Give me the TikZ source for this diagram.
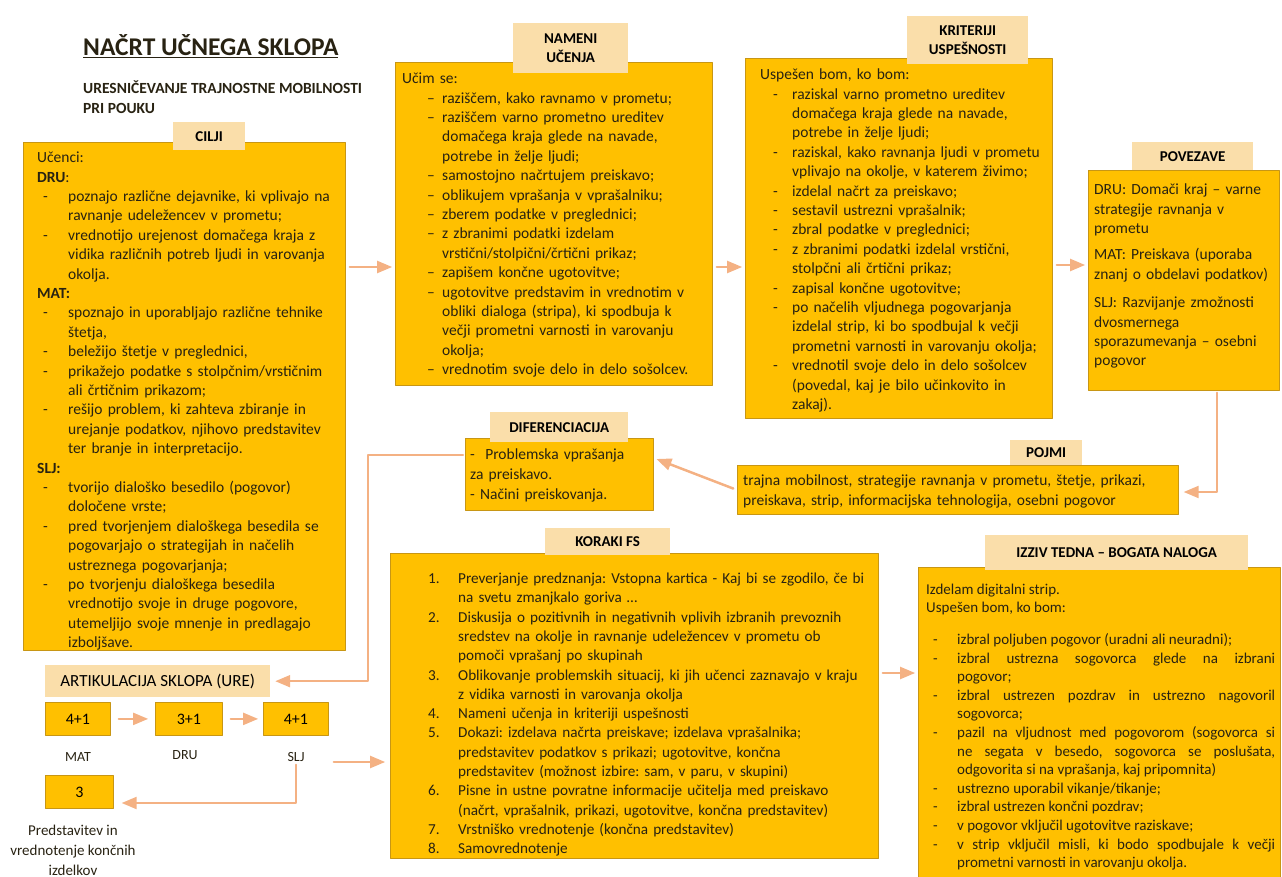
\documentclass[tikz,border=0pt]{standalone}
\usepackage{fontspec}
\setmainfont{Carlito}
\usetikzlibrary{arrows}
\frenchspacing

\definecolor{boxfill}{RGB}{255,192,0}
\definecolor{boxline}{RGB}{200,150,20}
\definecolor{tabfill}{RGB}{250,222,170}
\definecolor{arrowc}{RGB}{244,177,131}
\definecolor{txtc}{RGB}{40,34,18}

% dash lists with hanging indent
\newlength\dpre
\newlength\dind
\newcommand\dsym{-}
\newcommand\ditem{\par\noindent\hangindent=\dind\hangafter=1\makebox[\dind][l]{\hspace*{\dpre}\dsym}}
\newcommand\nitem[1]{\par\noindent\hangindent=\dind\hangafter=1\makebox[\dind][l]{#1}}

\begin{document}
\begin{tikzpicture}[line cap=round,line join=round,>=triangle 45,x=1.0pt,y=-1.0pt,
  box/.style={draw=boxline,fill=boxfill,line width=0.8pt,anchor=north west,inner sep=0pt},
  tab/.style={fill=tabfill,anchor=north west,inner sep=0pt,align=center,text=black,
    font=\fontsize{15}{19}\selectfont\bfseries},
  txt/.style={anchor=north west,inner sep=0pt,align=left,text=txtc,
    font=\fontsize{15.5}{19.4}\selectfont},
  arr/.style={->,draw=arrowc,line width=2.5pt,shorten <=4pt,shorten >=3pt}]
\useasboundingbox (0,0) rectangle (1282,877);

% title
\node[anchor=west,inner sep=0pt,text=txtc,font=\fontsize{25.5}{30}\selectfont\bfseries] (naslov) at (83,46) {\underline{NAČRT UČNEGA SKLOPA}};
\node[anchor=north west,inner sep=0pt,align=left,text=txtc,font=\fontsize{15.5}{20}\selectfont\bfseries] (podnaslov) at (83,79) {\strut URESNIČEVANJE TRAJNOSTNE MOBILNOSTI\\PRI POUKU};

% CILJI
\node[box,minimum width=322,minimum height=508] (cilji) at (23,142) {};
\node[tab,minimum width=72,minimum height=28] (ciljitab) at (173,122) {CILJI};
\node[txt,text width=305] (ciljitxt) at (37,149) {\setlength\dpre{6pt}\setlength\dind{31pt}%
\noindent\strut Učenci:
\par\noindent\textbf{DRU}:
\ditem poznajo različne dejavnike, ki vplivajo na\newline ravnanje udeležencev v prometu;
\ditem vrednotijo urejenost domačega kraja z\newline vidika različnih potreb ljudi in varovanja\newline okolja.
\par\noindent\textbf{MAT:}
\ditem spoznajo in uporabljajo različne tehnike\newline štetja,
\ditem beležijo štetje v preglednici,
\ditem prikažejo podatke s stolpčnim/vrstičnim\newline ali črtičnim prikazom;
\ditem rešijo problem, ki zahteva zbiranje in\newline urejanje podatkov, njihovo predstavitev\newline ter branje in interpretacijo.
\par\noindent\textbf{SLJ:}
\ditem tvorijo dialoško besedilo (pogovor)\newline določene vrste;
\ditem pred tvorjenjem dialoškega besedila se\newline pogovarjajo o strategijah in načelih\newline ustreznega pogovarjanja;
\ditem po tvorjenju dialoškega besedila\newline vrednotijo svoje in druge pogovore,\newline utemeljijo svoje mnenje in predlagajo\newline izboljšave.\par};

% NAMENI UCENJA
\node[box,minimum width=317,minimum height=323] (nameni) at (395,62) {};
\node[tab,minimum width=115,minimum height=50] (namenitab) at (513,23) {NAMENI\\UČENJA};
\node[txt,text width=305] (namenitxt) at (402,70) {\setlength\dpre{25pt}\setlength\dind{40pt}\renewcommand\dsym{–}%
\noindent\strut Učim se:
\ditem raziščem, kako ravnamo v prometu;
\ditem raziščem varno prometno ureditev\newline domačega kraja glede na navade,\newline potrebe in želje ljudi;
\ditem samostojno načrtujem preiskavo;
\ditem oblikujem vprašanja v vprašalniku;
\ditem zberem podatke v preglednici;
\ditem z zbranimi podatki izdelam\newline vrstični/stolpični/črtični prikaz;
\ditem zapišem končne ugotovitve;
\ditem ugotovitve predstavim in vrednotim v\newline obliki dialoga (stripa), ki spodbuja k\newline večji prometni varnosti in varovanju\newline okolja;
\ditem vrednotim svoje delo in delo sošolcev.\par};

% KRITERIJI USPESNOSTI
\node[box,minimum width=307,minimum height=360] (kriteriji) at (745,58) {};
\node[tab,minimum width=121,minimum height=48] (kriterijitab) at (907,16) {KRITERIJI\\USPEŠNOSTI};
\node[txt,text width=290] (kriterijitxt) at (760,66) {\setlength\dpre{13pt}\setlength\dind{32pt}%
\noindent\strut Uspešen bom, ko bom:
\ditem raziskal varno prometno ureditev\newline domačega kraja glede na navade,\newline potrebe in želje ljudi;
\ditem raziskal, kako ravnanja ljudi v prometu\newline vplivajo na okolje, v katerem živimo;
\ditem izdelal načrt za preiskavo;
\ditem sestavil ustrezni vprašalnik;
\ditem zbral podatke v preglednici;
\ditem z zbranimi podatki izdelal vrstični,\newline stolpčni ali črtični prikaz;
\ditem zapisal končne ugotovitve;
\ditem po načelih vljudnega pogovarjanja\newline izdelal strip, ki bo spodbujal k večji\newline prometni varnosti in varovanju okolja;
\ditem vrednotil svoje delo in delo sošolcev\newline (povedal, kaj je bilo učinkovito in\newline zakaj).\par};

% POVEZAVE
\node[box,minimum width=191,minimum height=220] (povezave) at (1088,170) {};
\node[tab,minimum width=121,minimum height=28] (povezavetab) at (1132,142) {POVEZAVE};
\node[txt,text width=186] (povezavetxt) at (1094,181) {%
\noindent\strut DRU: Domači kraj – varne\newline strategije ravnanja v\newline prometu
\par\vspace{7pt}\noindent MAT: Preiskava (uporaba\newline znanj o obdelavi podatkov)
\par\vspace{9pt}\noindent SLJ: Razvijanje zmožnosti\newline dvosmernega\newline sporazumevanja – osebni\newline pogovor\par};

% DIFERENCIACIJA
\node[box,minimum width=188,minimum height=72] (dif) at (465,438) {};
\node[tab,minimum width=138,minimum height=30] (diftab) at (490,412) {DIFERENCIACIJA};
\node[txt,text width=180,font=\fontsize{15.5}{20}\selectfont] (diftxt) at (470,445) {%
\noindent\strut -\ \ Problemska vprašanja\newline za preiskavo.\newline - Načini preiskovanja.\par};

% POJMI
\node[box,minimum width=441,minimum height=49] (pojmi) at (737,465) {};
\node[tab,minimum width=72,minimum height=25] (pojmitab) at (1010,440) {POJMI};
\node[txt,text width=435,font=\fontsize{15.5}{20}\selectfont] (pojmitxt) at (743,471) {%
\noindent\strut trajna mobilnost, strategije ravnanja v prometu, štetje, prikazi,\newline preiskava, strip, informacijska tehnologija, osebni pogovor\par};

% KORAKI FS
\node[box,minimum width=488,minimum height=305] (koraki) at (390,553) {};
\node[tab,minimum width=125,minimum height=27] (korakitab) at (545,528) {KORAKI FS};
\node[txt,text width=445,font=\fontsize{15.2}{19.3}\selectfont] (korakitxt) at (428,564) {\setlength\dind{30pt}%
\nitem{\strut 1.}Preverjanje predznanja: Vstopna kartica - Kaj bi se zgodilo, če bi\newline na svetu zmanjkalo goriva …
\nitem{2.}Diskusija o pozitivnih in negativnih vplivih izbranih prevoznih\newline sredstev na okolje in ravnanje udeležencev v prometu ob\newline pomoči vprašanj po skupinah
\nitem{3.}Oblikovanje problemskih situacij, ki jih učenci zaznavajo v kraju\newline z vidika varnosti in varovanja okolja
\nitem{4.}Nameni učenja in kriteriji uspešnosti
\nitem{5.}Dokazi: izdelava načrta preiskave; izdelava vprašalnika;\newline predstavitev podatkov s prikazi; ugotovitve, končna\newline predstavitev (možnost izbire: sam, v paru, v skupini)
\nitem{6.}Pisne in ustne povratne informacije učitelja med preiskavo\newline (načrt, vprašalnik, prikazi, ugotovitve, končna predstavitev)
\nitem{7.}Vrstniško vrednotenje (končna predstavitev)
\nitem{8.}Samovrednotenje\par};

% IZZIV TEDNA
\node[box,minimum width=362,minimum height=312] (izziv) at (918,567) {};
\node[tab,minimum width=263,minimum height=35] (izzivtab) at (985,535) {IZZIV TEDNA – BOGATA NALOGA};
\node[txt,text width=349,align=justify,font=\fontsize{15}{18.6}\selectfont] (izzivtxt) at (926,581) {\setlength\dpre{7pt}\setlength\dind{31pt}%
\noindent\strut Izdelam digitalni strip.
\par\noindent Uspešen bom, ko bom:
\par\vspace{13pt}%
\ditem izbral poljuben pogovor (uradni ali neuradni);
\ditem izbral ustrezna sogovorca glede na izbrani\linebreak pogovor;
\ditem izbral ustrezen pozdrav in ustrezno nagovoril\linebreak sogovorca;
\ditem pazil na vljudnost med pogovorom (sogovorca si\linebreak ne segata v besedo, sogovorca se poslušata,\linebreak odgovorita si na vprašanja, kaj pripomnita)
\ditem ustrezno uporabil vikanje/tikanje;
\ditem izbral ustrezen končni pozdrav;
\ditem v pogovor vključil ugotovitve raziskave;
\ditem v strip vključil misli, ki bodo spodbujale k večji\linebreak prometni varnosti in varovanju okolja.\par};

% ARTIKULACIJA SKLOPA
\node[tab,minimum width=225,minimum height=32,font=\fontsize{17}{20}\selectfont] (artik) at (45,665) {ARTIKULACIJA SKLOPA (URE)};
\node[box,minimum width=65,minimum height=33,font=\fontsize{16}{19}\selectfont] (matbox) at (45,702) {4+1};
\node[box,minimum width=67,minimum height=33,font=\fontsize{16}{19}\selectfont] (drubox) at (155,702) {3+1};
\node[box,minimum width=65,minimum height=33,font=\fontsize{16}{19}\selectfont] (sljbox) at (263,702) {4+1};
\node[box,minimum width=68,minimum height=33,font=\fontsize{16}{19}\selectfont] (trojka) at (45,775) {3};
\node[text=txtc,font=\fontsize{14}{17}\selectfont,inner sep=1pt] (mat) at (78,757) {MAT};
\node[text=txtc,font=\fontsize{14}{17}\selectfont,inner sep=1pt] (dru) at (185,755) {DRU};
\node[text=txtc,font=\fontsize{14}{17}\selectfont,inner sep=1pt] (slj) at (296,757) {SLJ};
\node[anchor=north,inner sep=0pt,align=center,text=txtc,font=\fontsize{15}{20}\selectfont] (predst) at (73,821) {\strut Predstavitev in\\vrednotenje končnih\\izdelkov};

% povezave med okvirji
\draw[arr] (cilji.east |- 0,267) -- (nameni.west |- 0,267);
\draw[arr] (nameni.east |- 0,267) -- (kriteriji.west |- 0,267);
\draw[arr] (kriteriji.east |- 0,265) -- (povezave.west |- 0,265);
\draw[arr,shorten <=2pt,shorten >=5pt] (povezave.south -| 1217,0) |- (pojmi.east |- 0,492);
\draw[arr] (pojmi.west |- 0,490) -- (dif.east |- 0,458);
\draw[arr,shorten <=2pt,shorten >=5pt] (dif.west |- 0,455) -- (368,455) |- (artik.east);
\draw[arr,shorten <=8pt,shorten >=7pt] (matbox.east) -- (drubox.west);
\draw[arr,shorten <=8pt,shorten >=5pt] (drubox.east) -- (sljbox.west);
\draw[arr,shorten <=2pt,shorten >=8pt] (slj.south) |- (trojka.east |- 0,803);
\draw[arr,shorten <=5pt,shorten >=5pt] (sljbox.east |- 0,762) -- (koraki.west |- 0,762);
\draw[arr] (koraki.east |- 0,673) -- (izziv.west |- 0,673);
\end{tikzpicture}
\end{document}
